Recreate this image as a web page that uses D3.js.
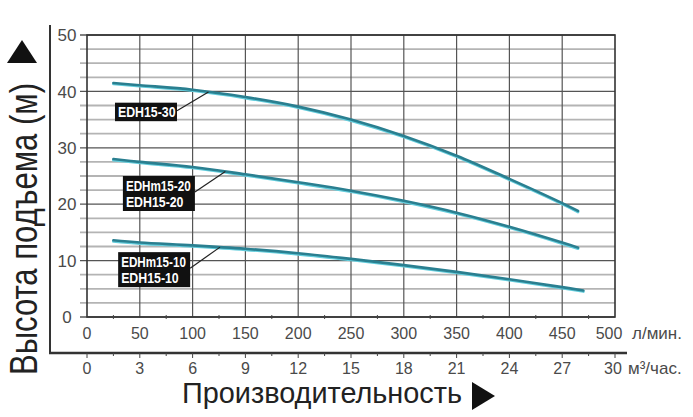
<!DOCTYPE html>
<html lang="ru">

<head>
    <meta charset="UTF-8">
    <title>Высота подъема</title>
    <script src="https://cdn.jsdelivr.net/npm/d3@7"></script>
    <style>
        body { margin: 0; background: #fff; }
        text { font-family: "Liberation Sans", Arial, sans-serif; }
    </style>
</head>

<body>
    <svg></svg>
</body>
<script>
    const width = 693;
    const height = 417;

    // flow in l/min, head in m
    const flow = [25, 50, 100, 150, 200, 250, 300, 350, 400, 450];
    const head30 = [41.5, 41.1, 40.3, 39.0, 37.3, 35.0, 32.1, 28.6, 24.5, 20.2];
    const head20 = [28.0, 27.5, 26.6, 25.3, 23.9, 22.4, 20.6, 18.5, 16.0, 13.2];
    const head10 = [13.6, 13.2, 12.7, 12.1, 11.3, 10.3, 9.2, 8.0, 6.7, 5.3];
    // last point of each curve
    const endFlow = [465, 465, 470];
    const endHead = [18.8, 12.3, 4.7];

    const lpmTicks = [0, 50, 100, 150, 200, 250, 300, 350, 400, 450, 500];
    const m3hTicks = [0, 3, 6, 9, 12, 15, 18, 21, 24, 27, 30];
    const headTicks = [0, 10, 20, 30, 40, 50];

    // labels: lines of text, box top-left (flow, head), point on the curve (flow)
    const labelText = [['EDH15-30'], ['EDHm15-20', 'EDH15-20'], ['EDHm15-10', 'EDH15-10']];
    const labelBoxQ = [26.5, 34, 29.5];
    const labelBoxH = [38.0, 25.0, 11.5];
    const labelPointQ = [115, 131, 126];

    const svg = d3.select('svg')
        .attr('width', width)
        .attr('height', height);

    const x = d3.scaleLinear().domain([0, 500]).range([87, 615]);
    const x2 = d3.scaleLinear().domain([0, 30]).range([87, 615]);
    const y = d3.scaleLinear().domain([0, 50]).range([317, 35]);

    /* grid */
    const grid = svg.append('g');
    grid.selectAll('.hminor')
        .data(d3.range(2.5, 50, 2.5).filter(v => v % 10 !== 0))
        .join('line')
        .attr('x1', 80).attr('x2', x(500))
        .attr('y1', d => y(d)).attr('y2', d => y(d))
        .attr('stroke', '#b4b4b4')
        .attr('stroke-width', 1.8);
    grid.selectAll('.hmajor')
        .data(headTicks)
        .join('line')
        .attr('x1', 80).attr('x2', x(500))
        .attr('y1', d => y(d)).attr('y2', d => y(d))
        .attr('stroke', '#555')
        .attr('stroke-width', 1.3);
    grid.selectAll('.vline')
        .data(lpmTicks.slice(1, -1))
        .join('line')
        .attr('x1', d => x(d)).attr('x2', d => x(d))
        .attr('y1', y(50)).attr('y2', y(0))
        .attr('stroke', '#555')
        .attr('stroke-width', 1.2);
    // plot frame
    grid.append('rect')
        .attr('x', x(0)).attr('y', y(50))
        .attr('width', x(500) - x(0)).attr('height', y(0) - y(50))
        .attr('fill', 'none')
        .attr('stroke', '#333')
        .attr('stroke-width', 1.6);
    // minor ticks on the zero line
    grid.selectAll('.mtick')
        .data(d3.range(25, 500, 50))
        .join('line')
        .attr('x1', d => x(d)).attr('x2', d => x(d))
        .attr('y1', y(0) - 2).attr('y2', y(0) + 2)
        .attr('stroke', '#444');

    /* left axis line and bottom axis line */
    svg.append('line')
        .attr('x1', 50).attr('x2', 50)
        .attr('y1', 25).attr('y2', 353)
        .attr('stroke', '#333').attr('stroke-width', 2);
    svg.append('line')
        .attr('x1', 49).attr('x2', 627)
        .attr('y1', 353).attr('y2', 353)
        .attr('stroke', '#333').attr('stroke-width', 2.6);
    svg.selectAll('.btick')
        .data(d3.range(0, 30.1, 1.5))
        .join('line')
        .attr('x1', d => x2(d)).attr('x2', d => x2(d))
        .attr('y1', 353).attr('y2', d => d % 3 === 0 ? 358 : 356)
        .attr('stroke', '#444');

    /* tick labels */
    svg.selectAll('.ylab')
        .data(headTicks)
        .join('text')
        .attr('x', 67).attr('y', d => y(d))
        .attr('dy', '0.36em')
        .attr('text-anchor', 'middle')
        .attr('font-size', 17)
        .attr('fill', '#4a4a4a')
        .text(d => d);
    svg.selectAll('.xlab')
        .data(lpmTicks)
        .join('text')
        .attr('x', d => x(d) - (d === 500 ? 6 : 0)).attr('y', 339)
        .attr('text-anchor', 'middle')
        .attr('font-size', 16)
        .attr('fill', '#4a4a4a')
        .text(d => d);
    svg.selectAll('.x2lab')
        .data(m3hTicks)
        .join('text')
        .attr('x', d => x2(d) - (d === 30 ? 2 : 0)).attr('y', 374)
        .attr('text-anchor', 'middle')
        .attr('font-size', 16)
        .attr('fill', '#4a4a4a')
        .text(d => d);
    svg.append('text')
        .attr('x', 632).attr('y', 339)
        .attr('font-size', 17).attr('fill', '#4a4a4a')
        .text('л/мин.');
    svg.append('text')
        .attr('x', 628).attr('y', 374)
        .attr('font-size', 17).attr('fill', '#4a4a4a')
        .text('м³/час.');

    /* axis titles */
    svg.append('text')
        .attr('transform', 'translate(37, 229) rotate(-90)')
        .attr('text-anchor', 'middle')
        .attr('font-size', 38)
        .attr('fill', '#222')
        .attr('textLength', 292)
        .attr('lengthAdjust', 'spacingAndGlyphs')
        .text('Высота подъема (м)');
    svg.append('path')
        .attr('d', 'M22,40 L37,63 L7,63 Z')
        .attr('fill', '#111');
    svg.append('text')
        .attr('x', 182).attr('y', 403)
        .attr('font-size', 30)
        .attr('fill', '#222')
        .attr('textLength', 280)
        .attr('lengthAdjust', 'spacingAndGlyphs')
        .text('Производительность');
    svg.append('path')
        .attr('d', 'M472,382 L495,396 L472,410 Z')
        .attr('fill', '#111');

    /* curves */
    const curves = [head30, head20, head10].map((h, i) =>
        flow.map((q, j) => [q, h[j]]).concat([[endFlow[i], endHead[i]]]));

    const line = d3.line()
        .x(d => x(d[0]))
        .y(d => y(d[1]))
        .curve(d3.curveCatmullRom);

    const gCurves = svg.append('g');
    gCurves.selectAll('.glow')
        .data(curves)
        .join('path')
        .attr('d', line)
        .attr('transform', 'translate(0, 1)')
        .attr('fill', 'none')
        .attr('stroke', '#63cddc')
        .attr('stroke-width', 2.8)
        .attr('stroke-linecap', 'round');
    gCurves.selectAll('.main')
        .data(curves)
        .join('path')
        .attr('d', line)
        .attr('fill', 'none')
        .attr('stroke', '#2a7f90')
        .attr('stroke-width', 2.6)
        .attr('stroke-linecap', 'round');

    /* labels */
    const headAt = (c, q) => {
        const i = d3.bisector(d => d[0]).left(c, q);
        const a = c[i - 1], b = c[i];
        return a[1] + (b[1] - a[1]) * (q - a[0]) / (b[0] - a[0]);
    };

    labelText.forEach((lines, i) => {
        const bx = x(labelBoxQ[i]);
        const by = y(labelBoxH[i]);
        const bw = lines.length > 1 ? 72 : 62;
        const bh = lines.length * 16.5 + 2;
        const px = x(labelPointQ[i]);
        const py = y(headAt(curves[i], labelPointQ[i]));

        svg.append('line')
            .attr('x1', bx + bw).attr('y1', by + (lines.length > 1 ? 16 : 8))
            .attr('x2', px).attr('y2', py)
            .attr('stroke', '#222')
            .attr('stroke-width', 1.2);
        svg.append('rect')
            .attr('x', bx).attr('y', by)
            .attr('width', bw).attr('height', bh)
            .attr('fill', '#111');
        lines.forEach((t, k) => {
            svg.append('text')
                .attr('x', bx + 3)
                .attr('y', by + 14.5 + k * 16.5)
                .attr('font-size', 14)
                .attr('font-weight', 'bold')
                .attr('fill', '#fff')
                .attr('textLength', t.length * 7.2)
                .attr('lengthAdjust', 'spacingAndGlyphs')
                .text(t);
        });
    });
</script>

</html>
